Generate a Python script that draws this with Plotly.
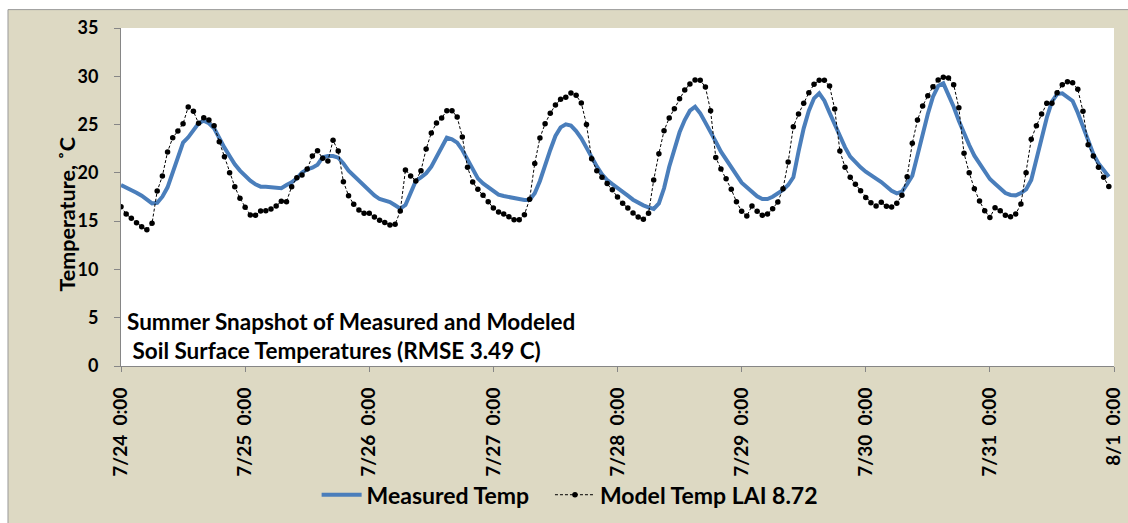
import pandas as pd
import plotly.graph_objects as go

# Hourly soil surface temperature, 7/24 0:00 through 7/31 23:00 (deg C)
measured_temp = [
    18.74, 18.5, 18.22, 17.95, 17.64, 17.26, 16.84, 16.9, 17.53, 18.5,
    19.95, 21.6, 23.13, 23.68, 24.33, 25.13, 25.4, 25.13, 24.61, 23.57,
    22.61, 21.74, 20.88, 20.23, 19.67, 19.19, 18.81, 18.57, 18.57, 18.53,
    18.43, 18.4, 18.74, 19.02, 19.43, 20.02, 20.36, 20.54, 20.85, 21.61,
    21.74, 21.74, 21.57, 20.98, 20.23, 19.71, 19.26, 18.78, 18.22, 17.67,
    17.29, 17.12, 16.98, 16.64, 16.29, 16.67, 18.05, 19.16, 19.54, 19.95,
    20.64, 21.68, 22.78, 23.64, 23.47, 23.13, 22.37, 21.4, 20.36, 19.43,
    18.91, 18.5, 18.05, 17.74, 17.6, 17.5, 17.35, 17.29, 17.19, 17.19,
    17.88, 19.16, 20.88, 22.37, 23.82, 24.71, 25.02, 24.89, 24.33, 23.57,
    22.61, 21.61, 20.67, 19.85, 19.26, 18.84, 18.4, 18.05, 17.64, 17.22,
    16.91, 16.64, 16.43, 16.26, 16.84, 18.4, 20.64, 22.54, 24.2, 25.47,
    26.44, 26.85, 26.16, 25.2, 24.1, 23.23, 22.19, 21.4, 20.54, 19.71,
    18.98, 18.5, 18.02, 17.57, 17.29, 17.29, 17.53, 17.88, 18.22, 18.74,
    19.54, 22.19, 24.61, 26.44, 27.72, 28.23, 27.47, 26.23, 24.95, 23.75,
    22.64, 21.68, 21.05, 20.57, 20.12, 19.71, 19.4, 19.05, 18.64, 18.15,
    17.88, 18.05, 18.84, 19.7, 21.81, 24.16, 26.09, 27.89, 28.99, 29.27,
    28.16, 26.85, 25.4, 24.09, 22.88, 21.78, 20.98, 20.05, 19.36, 18.88,
    18.33, 17.91, 17.71, 17.67, 17.91, 18.29, 19.26, 21.47, 23.75, 25.71,
    27.37, 28.16, 28.23, 27.89, 27.44, 26.23, 24.71, 23.19, 21.95, 20.98,
    20.3, 19.6,
]

model_temp = [
    16.5, 15.74, 15.29, 14.84, 14.43, 14.12, 14.77, 18.12, 19.67, 22.16,
    23.64, 24.33, 25.09, 26.82, 26.37, 25.13, 25.71, 25.47, 24.89, 23.23,
    21.68, 20.02, 18.57, 17.36, 16.43, 15.63, 15.6, 16.05, 16.08, 16.26,
    16.57, 17.05, 17.02, 18.57, 19.5, 19.78, 20.4, 21.74, 22.3, 21.5,
    21.23, 23.37, 22.26, 19.09, 17.64, 16.74, 16.15, 15.81, 15.81, 15.43,
    15.08, 14.87, 14.6, 14.67, 16.05, 20.29, 19.67, 19.16, 20.23, 22.47,
    24.13, 25.16, 25.68, 26.44, 26.44, 25.78, 23.71, 20.57, 19.05, 18.29,
    17.67, 17.02, 16.36, 15.95, 15.74, 15.46, 15.15, 15.15, 15.67, 17.26,
    20.98, 23.61, 25.09, 26.16, 27.03, 27.61, 27.82, 28.27, 28.03, 27.23,
    25.02, 21.47, 20.23, 19.54, 18.91, 18.26, 17.5, 16.84, 16.36, 15.84,
    15.43, 15.19, 15.81, 19.26, 21.99, 24.37, 25.68, 26.65, 27.68, 28.58,
    29.2, 29.61, 29.58, 28.89, 26.44, 21.6, 20.4, 19.4, 18.29, 17.02,
    16.02, 15.53, 16.57, 16.02, 15.6, 15.74, 16.29, 16.98, 18.36, 21.12,
    24.78, 26.09, 27.2, 28.3, 29.17, 29.58, 29.58, 28.99, 26.61, 22.26,
    20.57, 19.54, 18.81, 18.15, 17.46, 16.91, 16.57, 16.95, 16.53, 16.46,
    16.84, 17.67, 19.6, 23.06, 25.47, 26.92, 27.99, 28.92, 29.61, 29.89,
    29.82, 29.13, 26.75, 22.02, 20.02, 18.36, 17.08, 16.08, 15.39, 16.39,
    16.08, 15.6, 15.46, 15.74, 16.77, 20.02, 23.47, 24.89, 26.09, 27.2,
    27.2, 28.3, 29.13, 29.44, 29.34, 28.65, 26.37, 22.92, 21.74, 20.57,
    19.54, 18.6,
]

start_time = "2012-07-24 00:00"
end_time = "2012-08-01 00:00"
day_ticks = pd.date_range(start_time, end_time, freq="D")
day_labels = ["7/24", "7/25", "7/26", "7/27", "7/28", "7/29", "7/30", "7/31", "8/1"]
tick_text = [f"{d}\u00a0\u00a00:00" for d in day_labels]
y_ticks = [0, 5, 10, 15, 20, 25, 30, 35]

times = pd.date_range(start_time, periods=len(model_temp), freq="h")

FONT = "Lato, 'Open Sans', sans-serif"
BEIGE = "#DDD9C3"
AXIS_GREY = "#868686"
LEGEND_FONT = dict(family=FONT, size=23, weight="bold", color="#000000")

fig = go.Figure()

fig.add_trace(go.Scatter(
    x=times, y=measured_temp, name="Measured Temp", mode="lines",
    line=dict(color="#4A7EBB", width=4), legend="legend",
))
fig.add_trace(go.Scatter(
    x=times, y=model_temp, name="Model Temp LAI 8.72", mode="lines+markers",
    line=dict(color="#000000", width=1, dash="3px,2px"),
    marker=dict(color="#000000", size=5.5, symbol="circle"), legend="legend2",
))

# beige chart panel behind a white plotting area
fig.add_shape(type="rect", xref="paper", yref="paper", layer="below",
              x0=-0.1138, x1=1.03, y0=-0.5, y1=1.0544,
              fillcolor=BEIGE, line=dict(color="#9A9A9A", width=1))
fig.add_shape(type="rect", xref="paper", yref="paper", layer="below",
              x0=0, x1=1, y0=0, y1=1,
              fillcolor="#FFFFFF", line=dict(width=0))

fig.add_annotation(
    text="Summer Snapshot of Measured and Modeled<br>\u00a0Soil Surface Temperatures (RMSE 3.49 C)",
    xref="paper", yref="paper", x=0.004, y=0.09, xanchor="left", yanchor="middle",
    align="left", showarrow=False,
    font=dict(family=FONT, size=22.5, color="#000000", weight="bold"),
)
fig.add_annotation(
    text="Temperature, \u02daC", textangle=-90,
    xref="paper", yref="paper", x=-0.0544, y=0.451, xanchor="center", yanchor="middle",
    showarrow=False,
    font=dict(family=FONT, size=21.5, color="#000000", weight="bold"),
)

fig.update_layout(
    width=1128, height=523,
    margin=dict(l=121, r=14, t=28, b=157, autoexpand=False),
    paper_bgcolor="#FFFFFF", plot_bgcolor="#FFFFFF",
    font=dict(family=FONT, color="#000000"),
    showlegend=True,
    legend=dict(
        orientation="h", x=0.197, y=-0.381, xanchor="left", yanchor="middle",
        bgcolor="rgba(0,0,0,0)", font=LEGEND_FONT, itemwidth=40,
    ),
    legend2=dict(
        orientation="h", x=0.432, y=-0.381, xanchor="left", yanchor="middle",
        bgcolor="rgba(0,0,0,0)", font=LEGEND_FONT, itemwidth=40,
    ),
    xaxis=dict(
        range=[start_time, end_time], tickmode="array",
        tickvals=day_ticks, ticktext=tick_text, tickangle=-90,
        showgrid=False, zeroline=False, showline=True, linecolor=AXIS_GREY,
        ticks="outside", ticklen=5, tickcolor=AXIS_GREY,
        tickfont=dict(family=FONT, size=19, weight="bold"),
        ticklabelstandoff=8, automargin=False,
    ),
    yaxis=dict(
        range=[0, 35], tickmode="array", tickvals=y_ticks,
        showgrid=False, zeroline=False, showline=True, linecolor=AXIS_GREY,
        ticks="outside", ticklen=6, tickcolor=AXIS_GREY,
        tickfont=dict(family=FONT, size=18, weight="bold"),
        ticklabelstandoff=12, automargin=False,
    ),
)

fig.write_html("out.html")
